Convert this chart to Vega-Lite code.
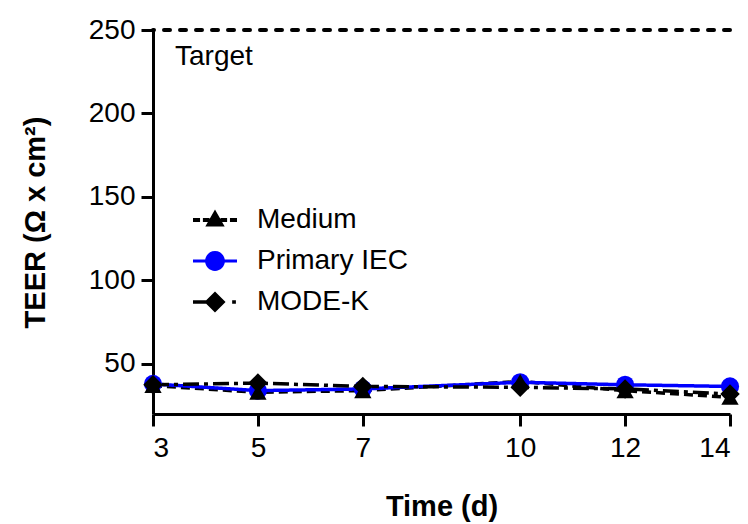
{
  "$schema": "https://vega.github.io/schema/vega-lite/v6.json",
  "width": 577,
  "height": 384,
  "autosize": "none",
  "padding": {"left": 153, "top": 30, "right": 18, "bottom": 110},
  "background": "white",
  "config": {
    "view": {"stroke": null},
    "font": "Liberation Sans",
    "axis": {
      "domainColor": "black", "domainWidth": 3, "tickColor": "black", "tickWidth": 3, "tickSize": 12,
      "labelColor": "black", "labelFont": "Liberation Sans", "labelFontSize": 28,
      "titleColor": "black", "titleFont": "Liberation Sans", "titleFontSize": 29, "titleFontWeight": "bold",
      "grid": false
    }
  },
  "datasets": {
    "teer": [
      {"day": 3, "series": "Medium", "teer": 37},
      {"day": 5, "series": "Medium", "teer": 33},
      {"day": 7, "series": "Medium", "teer": 34},
      {"day": 10, "series": "Medium", "teer": 39.5},
      {"day": 12, "series": "Medium", "teer": 34},
      {"day": 14, "series": "Medium", "teer": 30},
      {"day": 3, "series": "Primary IEC", "teer": 38},
      {"day": 5, "series": "Primary IEC", "teer": 34},
      {"day": 7, "series": "Primary IEC", "teer": 35},
      {"day": 10, "series": "Primary IEC", "teer": 39},
      {"day": 12, "series": "Primary IEC", "teer": 37.5},
      {"day": 14, "series": "Primary IEC", "teer": 36.5},
      {"day": 3, "series": "MODE-K", "teer": 37.5},
      {"day": 5, "series": "MODE-K", "teer": 38.5},
      {"day": 7, "series": "MODE-K", "teer": 36.5},
      {"day": 10, "series": "MODE-K", "teer": 36},
      {"day": 12, "series": "MODE-K", "teer": 35},
      {"day": 14, "series": "MODE-K", "teer": 32}
    ],
    "target": [{"label": "Target", "value": 250}]
  },
  "layer": [
    {
      "data": {"name": "target"},
      "mark": {"type": "rule", "strokeWidth": 4, "strokeDash": [6, 10], "strokeCap": "round", "color": "black"},
      "encoding": {
        "y": {
          "field": "value", "type": "quantitative",
          "scale": {"domain": [20, 250], "nice": false, "zero": false},
          "axis": {"values": [50, 100, 150, 200, 250], "title": "TEER  (Ω x cm²)", "labelPadding": 6, "titleX": -118, "titleY": 192, "titleBaseline": "middle"}
        }
      }
    },
    {
      "data": {"name": "target"},
      "mark": {"type": "text", "fontSize": 28, "align": "left", "baseline": "middle", "dx": 22, "dy": 27, "color": "black"},
      "encoding": {
        "x": {"datum": 3, "type": "quantitative"},
        "y": {"field": "value", "type": "quantitative"},
        "text": {"field": "label", "type": "nominal"}
      }
    },
    {
      "data": {"name": "teer"},
      "mark": {"type": "line", "strokeWidth": 3.5},
      "encoding": {
        "x": {
          "field": "day", "type": "quantitative",
          "scale": {"domain": [3, 14], "nice": false, "zero": false},
          "axis": {"values": [3, 5, 7, 10, 12, 14], "title": "Time (d)", "labelPadding": 8, "titleY": 92, "titleBaseline": "middle"}
        },
        "y": {"field": "teer", "type": "quantitative"},
        "color": {
          "field": "series", "type": "nominal",
          "scale": {"domain": ["Medium", "Primary IEC", "MODE-K"], "range": ["#000000", "#0000ff", "#000000"]},
          "legend": {
            "title": null, "orient": "none", "legendX": 40, "legendY": 168,
            "symbolSize": 1936, "labelFontSize": 28, "labelFont": "Liberation Sans", "labelColor": "black",
            "labelOffset": 20, "rowPadding": 5, "padding": 0,
            "encode": {
              "symbols": {
                "update": {
                  "shape": {"signal": "datum.value === 'Medium' ? 'M-1,-0.09H-0.68V0.09H-1Z M-0.55,-0.09H-0.25V0.09H-0.55Z M0,-0.48L0.44,0.3L-0.44,0.3Z M0.25,-0.09H0.55V0.09H0.25Z M0.68,-0.09H1V0.09H0.68Z' : datum.value === 'Primary IEC' ? 'M-1,-0.07H-0.43V0.07H-1Z M0.43,-0.07H1V0.07H0.43Z M0.45,0A0.45,0.45 0 1,1 -0.45,0A0.45,0.45 0 1,1 0.45,0Z' : 'M-1,-0.08H-0.3V0.08H-1Z M0,-0.48L0.48,0L0,0.48L-0.48,0Z M0.78,-0.08H0.95V0.08H0.78Z'"},
                  "fill": {"signal": "datum.value === 'Primary IEC' ? '#0000ff' : '#000000'"},
                  "stroke": {"value": "transparent"},
                  "strokeWidth": {"value": 0},
                  "strokeDash": {"value": [1, 0]},
                  "opacity": {"value": 1}
                }
              }
            }
          }
        },
        "strokeDash": {
          "field": "series", "type": "nominal",
          "scale": {"domain": ["Medium", "Primary IEC", "MODE-K"], "range": [[9, 5], [1, 0], [16, 5, 4, 5]]},
          "legend": null
        }
      }
    },
    {
      "data": {"name": "teer"},
      "transform": [{"filter": "datum.series === 'Primary IEC'"}],
      "mark": {"type": "point", "shape": "circle", "filled": true, "size": 330, "color": "#0000ff", "opacity": 1},
      "encoding": {"x": {"field": "day", "type": "quantitative"}, "y": {"field": "teer", "type": "quantitative"}}
    },
    {
      "data": {"name": "teer"},
      "transform": [{"filter": "datum.series === 'MODE-K'"}],
      "mark": {"type": "point", "shape": "diamond", "filled": true, "size": 380, "color": "#000000", "opacity": 1},
      "encoding": {"x": {"field": "day", "type": "quantitative"}, "y": {"field": "teer", "type": "quantitative"}}
    },
    {
      "data": {"name": "teer"},
      "transform": [{"filter": "datum.series === 'Medium'"}],
      "mark": {"type": "point", "shape": "triangle-up", "filled": true, "size": 300, "color": "#000000", "opacity": 1},
      "encoding": {"x": {"field": "day", "type": "quantitative"}, "y": {"field": "teer", "type": "quantitative"}}
    }
  ]
}
